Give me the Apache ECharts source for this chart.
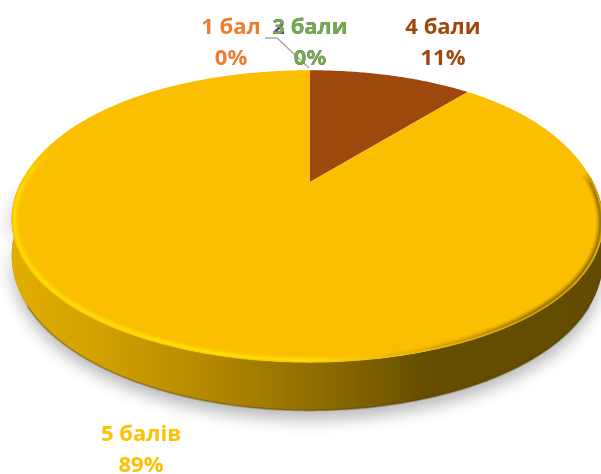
<!DOCTYPE html>
<html><head><meta charset="utf-8">
<style>html,body{margin:0;padding:0;background:#fff}#c{width:601px;height:474px}</style>
<script src="https://cdn.jsdelivr.net/npm/echarts@6/dist/echarts.min.js"></script>
</head><body><div id="c"></div>
<script>
const categories = ['1 бал','2 бали','3 бали','4 бали','5 балів'];
const percents = [0,0,0,11,89];
const sliceColors = ['#ed7d31','#7030a0','#70ad47','#9e480e','#fbbe00'];
const labelColors = ['#ed7d31','#7030a0','#70ad47','#9e480e','#ffc000'];

const labelPos = [[231,43],[310,43],[310,43],[443,43],[141,450]];
const CX=310,CY=182,A=296,B=138,K=-0.235;
function proj(t,drop,inset){
  const u=Math.sin(t),v=-Math.cos(t),w=1+K*v;
  let x=CX+A*u/w-(u>0?13:-7)*Math.pow(u,4),y=CY+B*v/w;
  const d=drop?drop*(0.74+0.26*Math.max(0,(y-216)/146)):0;
  if(inset){x+=(CX-x)*inset;y+=(216-y)*inset*1.6;}
  return [x,y+d];
}
function arc(t0,t1,drop,inset){
  const n=Math.max(2,Math.ceil(Math.abs(t1-t0)/0.01)),p=[];
  for(let i=0;i<=n;i++)p.push(proj(t0+(t1-t0)*i/n,drop,inset));
  return p;
}
const TAU=Math.PI*2;
const total=percents.reduce((a,b)=>a+b,0);
let acc=0;
const sliceData=percents.map(v=>{const s=acc;acc+=v;return [s,v];});
const DEPTH=48;
const RIGHT=TAU*0.245,LEFT=TAU*0.755;

const sideGrad={type:'linear',x:0,y:0,x2:1,y2:0,colorStops:[
 {offset:0,color:'#e2ae00'},{offset:.15,color:'#d2a000'},{offset:.33,color:'#b48900'},{offset:.5,color:'#927000'},
 {offset:.7,color:'#664e00'},{offset:1,color:'#624b00'}]};
const rimGrad=o=>({type:'linear',x:0,y:0,x2:1,y2:0,colorStops:[
 {offset:0,color:'rgba(255,224,0,'+o+')'},{offset:.5,color:'rgba(255,224,0,'+o+')'},
 {offset:.6,color:'rgba(255,200,0,'+(o*.3)+')'},{offset:.68,color:'rgba(190,145,0,'+(o*.2)+')'},
 {offset:.88,color:'rgba(150,112,0,'+(o*.8)+')'},{offset:1,color:'rgba(140,105,0,'+(o*.8)+')'}]});
const rimBands=[[.24,.79,.012,7,.22],[.245,.77,.011,4.5,.38],[.25,.75,.010,2.5,.55],[.26,.72,.010,1.3,.7]];

const option={
 animation:false,
 series:[
 {type:'custom',coordinateSystem:'none',silent:true,data:[[total]],z:1,clip:false,
  renderItem(){
    const front=arc(RIGHT,LEFT,0),back=arc(LEFT,RIGHT,DEPTH);
    const pts=front.concat(back);
    return {type:'group',children:[
      {type:'polygon',shape:{points:pts},style:{fill:'#999',shadowBlur:16,shadowColor:'rgba(0,0,0,.28)',shadowOffsetX:0,shadowOffsetY:9}},
      {type:'polygon',shape:{points:pts},style:{fill:sideGrad}},
      {type:'polyline',shape:{points:arc(TAU*.66,TAU*.34,DEPTH)},style:{fill:null,stroke:'rgba(80,55,0,.35)',lineWidth:2}}
    ]};
  }},
 {type:'custom',coordinateSystem:'none',silent:true,data:sliceData,z:2,clip:false,
  renderItem(params,api){
    const s=api.value(0),v=api.value(1);
    if(!v)return null;
    const t0=s/total*TAU,t1=(s+v)/total*TAU;
    return {type:'polygon',shape:{points:[[CX,CY]].concat(arc(t0,t1,0))},
      style:{fill:sliceColors[params.dataIndex]}};
  }},
 {type:'custom',coordinateSystem:'none',silent:true,data:[[total]],z:3,clip:false,
  renderItem(){
    return {type:'group',children:rimBands.map(b=>({type:'polyline',
      shape:{points:arc(TAU*b[0],TAU*b[1],0,b[2])},
      style:{fill:null,stroke:rimGrad(b[4]),lineWidth:b[3]}}))};
  }},
 {type:'custom',coordinateSystem:'none',silent:true,z:4,clip:false,
  data:categories.map((c,i)=>[percents[i]]),
  renderItem(params,api){
    const i=params.dataIndex,p=labelPos[i];
    const kids=[];
    if(i===1){
      kids.push({type:'polyline',shape:{points:[[265,38],[277,38],[309,68]]},style:{fill:null,stroke:'#a6a6a6',lineWidth:1.3}});
    }
    kids.push({type:'text',style:{x:p[0],y:p[1],text:categories[i]+'\n'+api.value(0)+'%',
      fill:labelColors[i],align:'center',verticalAlign:'middle',lineHeight:31,
      font:'bold 22px "Open Sans", "Noto Sans", sans-serif'}});
    return {type:'group',children:kids};
  }}
 ]
};
const chart=echarts.init(document.getElementById('c'),null,{renderer:'canvas'});
chart.setOption(option);
</script></body></html>
